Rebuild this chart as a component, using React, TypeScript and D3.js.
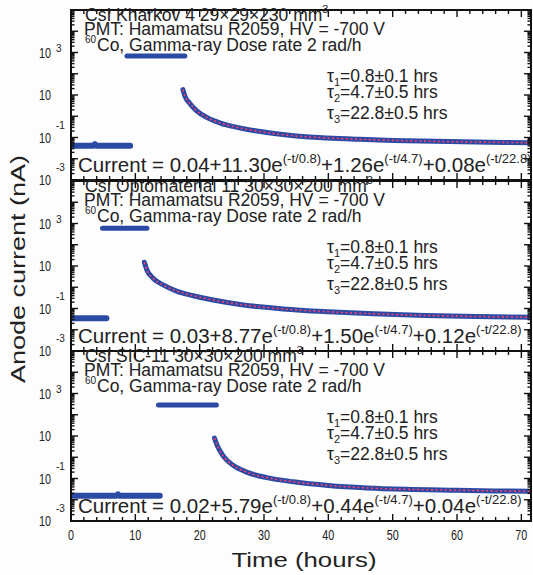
import * as d3 from 'd3'
import { useEffect, useRef } from 'react'

const width = 533, height = 575
const plotLeft = 71, plotRight = 531
const panelTop = [10, 181, 351]
const panelHeight = 170
const blue = '#2b4aa3', red = '#ff3d6e', ink = '#222'

const crystals = ['CsI Kharkov 4 29×29×230 mm', 'CsI Optomaterial 11 30×30×200 mm', 'CsI SIC-11 30×30×200 mm']
const offsets = ['0.04', '0.03', '0.02']
const amp1 = ['11.30', '8.77', '5.79']
const amp2 = ['1.26', '1.50', '0.44']
const amp3 = ['0.08', '0.12', '0.04']
const tauValues = ['0.8±0.1', '4.7±0.5', '22.8±0.5']
const tauFit = ['0.8', '4.7', '22.8']

const xMajor = [0, 10, 20, 30, 40, 50, 60, 70]
const yLabelExp = [-3, -1, 1, 3]

// [time (hours), anode current (nA)]
const kharkovBase = [[0, 0.041], [3.5, 0.041], [3.7, 0.05], [3.9, 0.041], [9.2, 0.041]]
const kharkovIrr = [[8.7, 690], [17.7, 690]]
const kharkovDecay = [[17.4, 18], [17.7, 9], [18.5, 3.9], [19.5, 1.85], [21.1, 0.88], [23.2, 0.48], [25.8, 0.3], [29.4, 0.19], [34.6, 0.12], [39.8, 0.095], [44.9, 0.082], [50, 0.073], [58.9, 0.064], [65, 0.06], [71.5, 0.057]]

const optoBase = [[0, 0.035], [5.5, 0.035]]
const optoIrr = [[4.9, 590], [11.8, 590]]
const optoDecay = [[11.4, 15], [11.8, 6.5], [12.8, 2.6], [14.4, 1.25], [16.4, 0.66], [19, 0.4], [22.1, 0.25], [26.3, 0.155], [29.4, 0.12], [33, 0.095], [40, 0.07], [47, 0.056], [55, 0.047], [63, 0.042], [71.5, 0.039]]

const sicBase = [[0, 0.0155], [7.1, 0.0155], [7.3, 0.018], [7.5, 0.0155], [13.8, 0.0155]]
const sicIrr = [[13.6, 290], [22.6, 290]]
const sicDecay = [[22.3, 8], [22.7, 3.7], [23.7, 1.1], [25.2, 0.42], [27.3, 0.2], [30.4, 0.11], [34.6, 0.07], [40, 0.047], [46, 0.036], [52, 0.031], [60, 0.028], [66, 0.026], [71.5, 0.025]]

const bases = [kharkovBase, optoBase, sicBase]
const irrs = [kharkovIrr, optoIrr, sicIrr]
const decays = [kharkovDecay, optoDecay, sicDecay]

export default function App() {
    const svgRef = useRef(null)

    useEffect(() => {
        const svg = d3.select(svgRef.current)
        svg.selectAll('*').remove()
        svg.append('rect').attr('width', width).attr('height', height).attr('fill', '#fdfdfd')

        const x = d3.scaleLinear().domain([0, 71.5]).range([plotLeft, plotRight])
        const font = 'Liberation Sans, Arial, sans-serif'

        panelTop.forEach((top, i) => {
            const bottom = top + panelHeight
            const y = d3.scaleLog().domain([1e-3, 1e5]).range([bottom, top])
            const g = svg.append('g')

            g.append('clipPath').attr('id', 'clip' + i)
                .append('rect').attr('x', plotLeft).attr('y', top)
                .attr('width', plotRight - plotLeft).attr('height', panelHeight)

            const line = d3.line<number[]>().x(d => x(d[0])).y(d => y(d[1])).curve(d3.curveMonotoneX)
            const data = g.append('g').attr('clip-path', `url(#clip${i})`)
            ;[bases[i], irrs[i], decays[i]].forEach((s, k) => {
                data.append('path').attr('d', line(s)).attr('fill', 'none')
                    .attr('stroke', blue).attr('stroke-width', k == 0 ? 6 : 5)
                    .attr('stroke-linecap', 'round').attr('stroke-linejoin', 'round')
            })
            data.append('path').attr('d', line(decays[i])).attr('fill', 'none')
                .attr('stroke', red).attr('stroke-width', 1.6).attr('stroke-dasharray', '2,2.6')

            // ticks, all inward
            const ticks = g.append('g').attr('stroke', '#111').attr('stroke-width', 1.4)
            d3.range(0, 72, 2).forEach(t => {
                const len = t % 10 == 0 ? 7 : 4
                ticks.append('line').attr('x1', x(t)).attr('x2', x(t)).attr('y1', top).attr('y2', top + len)
                ticks.append('line').attr('x1', x(t)).attr('x2', x(t)).attr('y1', bottom).attr('y2', bottom - len)
            })
            d3.range(-3, 5).forEach(e => {
                d3.range(1, 10).forEach(m => {
                    const v = m * Math.pow(10, e)
                    const len = m == 1 ? 7 : 3.5
                    ticks.append('line').attr('x1', plotLeft).attr('x2', plotLeft + len).attr('y1', y(v)).attr('y2', y(v))
                    ticks.append('line').attr('x1', plotRight).attr('x2', plotRight - len).attr('y1', y(v)).attr('y2', y(v))
                })
            })

            g.append('rect').attr('x', plotLeft).attr('y', top)
                .attr('width', plotRight - plotLeft).attr('height', panelHeight)
                .attr('fill', 'none').attr('stroke', '#111').attr('stroke-width', 2)

            // y tick labels
            yLabelExp.forEach(e => {
                const ty = y(Math.pow(10, e))
                g.append('text').attr('x', 51).attr('y', ty + 5).attr('text-anchor', 'end')
                    .attr('textLength', 12).attr('lengthAdjust', 'spacingAndGlyphs')
                    .style('font', `14px ${font}`).attr('fill', ink).text('10')
                if (e != 1)
                    g.append('text').attr('x', 56).attr('y', e < 0 ? ty - 9 : ty - 1)
                        .style('font', `10px ${font}`).attr('fill', ink).text(String(e))
            })

            // header text
            const txt = (yy: number, xx: number, size: number) => g.append('text').attr('x', xx).attr('y', top + yy)
                .style('font', `${size}px ${font}`).attr('fill', ink)
            const title = txt(10.5, 85, 17.5)
            title.append('tspan').text(crystals[i])
            title.append('tspan').attr('dy', -8).style('font-size', '11px').text('3')
            txt(25, 84, 17.5).text('PMT: Hamamatsu R2059, HV = -700 V')
            txt(33, 85, 10).text('60')
            txt(40.5, 97, 17.5).text('Co, Gamma-ray Dose rate 2 rad/h')

            ;[71.5, 88, 108.5].forEach((yy, k) => {
                const t = txt(yy, 327, 17.5)
                t.append('tspan').text('τ')
                t.append('tspan').attr('dy', 4).style('font-size', '11px').text(String(k + 1))
                t.append('tspan').attr('dy', -4).text('=' + tauValues[k] + ' hrs')
            })

            // fit formula, exponents raised
            const cur = txt(162, 78, 20.5)
            const mains = ['Current = ' + offsets[i] + '+' + amp1[i] + 'e', '+' + amp2[i] + 'e', '+' + amp3[i] + 'e']
            mains.forEach((main, k) => {
                cur.append('tspan').attr('dy', k == 0 ? 0 : 9).text(main)
                cur.append('tspan').attr('dy', -9).style('font-size', '13px').text(`(-t/${tauFit[k]})`)
            })
        })

        // x tick labels
        xMajor.forEach(t => {
            svg.append('text').attr('x', x(t)).attr('y', 540).attr('text-anchor', 'middle')
                .attr('textLength', t == 0 ? 6 : 12).attr('lengthAdjust', 'spacingAndGlyphs')
                .style('font', `14px ${font}`).attr('fill', ink).text(String(t))
        })

        svg.append('text').attr('x', 304).attr('y', 567).attr('text-anchor', 'middle')
            .attr('textLength', 145).attr('lengthAdjust', 'spacingAndGlyphs')
            .style('font', `21px ${font}`).attr('fill', ink).text('Time (hours)')

        svg.append('text').attr('transform', 'translate(25,269) rotate(-90)').attr('text-anchor', 'middle')
            .attr('textLength', 228).attr('lengthAdjust', 'spacingAndGlyphs')
            .style('font', `20px ${font}`).attr('fill', ink).text('Anode current (nA)')
    }, [])

    return (
        <div style={{ position: 'absolute', left: 0, top: 0 }}>
            <svg ref={svgRef} width={width} height={height} style={{ display: 'block' }} />
        </div>
    )
}
